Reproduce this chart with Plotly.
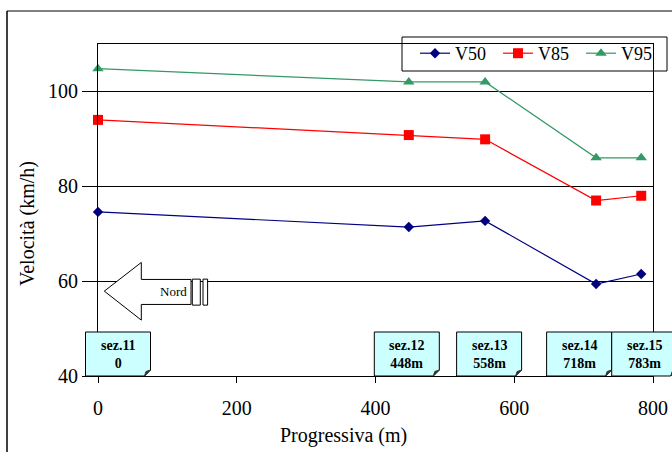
import plotly.graph_objects as go

# Survey sections along the road (chainage in metres)
sections = [0, 448, 558, 718, 783]
section_names = ["sez.11", "sez.12", "sez.13", "sez.14", "sez.15"]
section_tags = ["0", "448m", "558m", "718m", "783m"]

# Speed percentiles (km/h) at each section
v50 = [74.6, 71.4, 72.7, 59.4, 61.5]
v85 = [94.0, 90.8, 89.9, 77.0, 78.0]
v95 = [104.8, 102.0, 102.0, 86.0, 86.0]

x_ticks = [0, 200, 400, 600, 800]
y_ticks = [40, 60, 80, 100]
X_RANGE = [0, 800]
Y_RANGE = [40, 110]

# Page geometry
W, H = 672, 452
ML, MR, MT, MB = 98, 19, 44, 76
PW = W - ML - MR
PH = H - MT - MB


def fx(px):
    return (px - ML) / PW


def fy(py):
    return (H - MB - py) / PH


FONT = "Liberation Serif"

fig = go.Figure()
series = [
    ("V50", v50, "#000080", "diamond", 8),
    ("V85", v85, "#FF0000", "square", 10),
    ("V95", v95, "#339966", "triangle-up", 10),
]
for name, vals, col, sym, size in series:
    fig.add_trace(go.Scatter(
        x=sections, y=vals, name=name, mode="lines+markers",
        line=dict(color=col, width=1.2),
        marker=dict(symbol=sym, size=size, color=col, line=dict(width=0)),
        cliponaxis=False,
    ))

shapes = []
annotations = []

# Section label boxes with a folded bottom-right corner
box_shift = [20, -2, 4, -17, 3]
BW, BH, C = 65, 44, 6
for sec, name, tag, sh in zip(sections, section_names, section_tags, box_shift):
    L, R = sh - BW / 2, sh + BW / 2
    xa = (sec - X_RANGE[0]) / (X_RANGE[1] - X_RANGE[0])
    shapes.append(dict(
        type="path", xref="paper", yref="paper",
        xsizemode="pixel", ysizemode="pixel", xanchor=xa, yanchor=0,
        path=f"M{L},0 L{L},{BH} L{R},{BH} L{R},{C} L{R - C},0 Z",
        fillcolor="#CCFFFF", line=dict(color="black", width=1), layer="above",
    ))
    shapes.append(dict(
        type="path", xref="paper", yref="paper",
        xsizemode="pixel", ysizemode="pixel", xanchor=xa, yanchor=0,
        path=f"M{R},{C} L{R - C},0 L{R - C + 1.5},{C - 1.5} Z",
        fillcolor="#333333", line=dict(color="#333333", width=1), layer="above",
    ))
    annotations.append(dict(
        xref="x", x=sec, xshift=sh, yref="paper", y=fy(354), yanchor="middle",
        text=f"<b>{name}</b><br><b>{tag}</b>", showarrow=False,
        font=dict(family=FONT, size=14, color="black"),
    ))

# North arrow (pixel offsets from x=0, y=60)
arrow = "M6.3,-10 L43.3,18.7 L43.3,1.7 L93,1.7 L93,-23.3 L43.3,-23.3 L43.3,-39 Z"
for p in [arrow,
          "M94.3,2 L102.3,2 L102.3,-24 L94.3,-24 Z",
          "M105,2 L109.6,2 L109.6,-24 L105,-24 Z"]:
    shapes.append(dict(
        type="path", xref="x", yref="y", xsizemode="pixel", ysizemode="pixel",
        xanchor=0, yanchor=60, path=p,
        fillcolor="white", line=dict(color="black", width=1), layer="above",
    ))
annotations.append(dict(
    xref="paper", yref="paper", x=fx(189), y=fy(291), xanchor="right", yanchor="middle",
    text="Nord", showarrow=False, font=dict(family=FONT, size=13, color="black"),
))

# Legend frame
shapes.append(dict(type="rect", xref="paper", yref="paper",
                   x0=fx(402), x1=fx(667), y0=fy(37), y1=fy(71),
                   line=dict(color="black", width=1), fillcolor="rgba(0,0,0,0)"))

# Outer chart frame
shapes.append(dict(type="line", xref="paper", yref="paper",
                   x0=fx(7), x1=fx(700), y0=fy(11), y1=fy(11),
                   line=dict(color="#808080", width=2)))
shapes.append(dict(type="line", xref="paper", yref="paper",
                   x0=fx(7), x1=fx(7), y0=fy(11), y1=fy(470),
                   line=dict(color="black", width=1.5)))

# Axis titles
annotations.append(dict(
    xref="paper", yref="paper", x=fx(343), y=fy(435), xanchor="center", yanchor="middle",
    text="Progressiva (m)", showarrow=False, font=dict(family=FONT, size=20, color="black"),
))
annotations.append(dict(
    xref="paper", yref="paper", x=fx(27), y=fy(224), xanchor="center", yanchor="middle",
    text="Velocità (km/h)", textangle=-90, showarrow=False,
    font=dict(family=FONT, size=20, color="black"),
))

fig.update_layout(
    width=W, height=H,
    margin=dict(l=ML, r=MR, t=MT, b=MB, pad=0, autoexpand=False),
    paper_bgcolor="white", plot_bgcolor="white",
    font=dict(family=FONT, size=20, color="black"),
    showlegend=True,
    legend=dict(
        orientation="h", x=fx(415), y=fy(35), xanchor="left", yanchor="top",
        bgcolor="rgba(0,0,0,0)", borderwidth=0,
        entrywidth=38, entrywidthmode="pixels",
        font=dict(family=FONT, size=18, color="black"),
    ),
    xaxis=dict(
        range=X_RANGE, tickvals=x_ticks, ticktext=[str(v) for v in x_ticks],
        showgrid=False, zeroline=False, showline=True, linecolor="black", linewidth=1,
        mirror=True, ticks="outside", ticklen=6, tickcolor="black",
        ticklabelstandoff=8, automargin=False,
        tickfont=dict(family=FONT, size=20, color="black"),
    ),
    yaxis=dict(
        range=Y_RANGE, tickvals=y_ticks, ticktext=[str(v) for v in y_ticks],
        showgrid=True, gridcolor="black", gridwidth=1, zeroline=False,
        showline=True, linecolor="black", linewidth=1, mirror=True,
        ticks="outside", ticklen=15, tickcolor="black", automargin=False,
        tickfont=dict(family=FONT, size=20, color="black"),
    ),
    shapes=shapes, annotations=annotations,
)

fig.write_html("out.html")
